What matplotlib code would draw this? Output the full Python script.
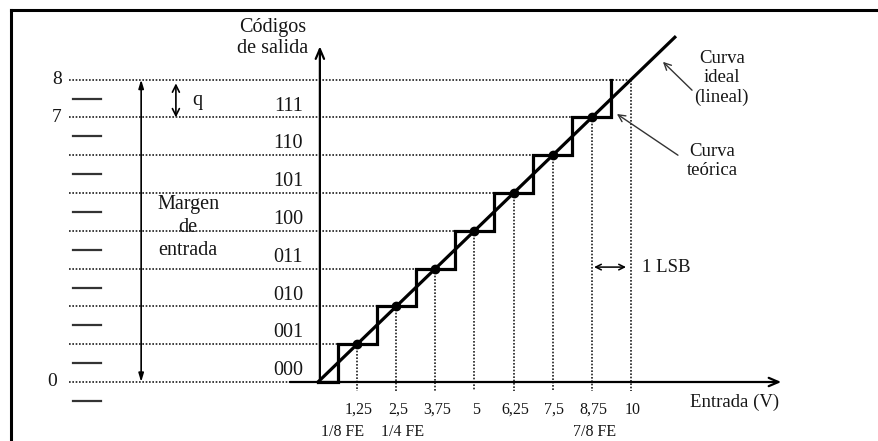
import numpy as np
import matplotlib
matplotlib.use("Agg")
import matplotlib.pyplot as plt
from matplotlib.lines import Line2D

# data (volts on x, output code on y)
levels = [0, 1, 2, 3, 4, 5, 6, 7, 8]
code_labels = ["000", "001", "010", "011", "100", "101", "110", "111"]
tick_volts = [1.25, 2.5, 3.75, 5, 6.25, 7.5, 8.75, 10]
tick_labels = ["1,25", "2,5", "3,75", "5", "6,25", "7,5", "8,75", "10"]
fe_volts = [1.25, 2.5, 8.75]
fe_labels = ["1/8 FE", "1/4 FE", "7/8 FE"]
fe_shift = [-0.45, 0.2, 0.1]   # labels sit a little off their tick
# staircase (curva teorica): transitions at half LSB
step_edges = [0, 0.625, 1.875, 3.125, 4.375, 5.625, 6.875, 8.125, 9.375]
step_codes = [0, 1, 2, 3, 4, 5, 6, 7]
step_top = 8
# ideal line end point
ideal_v = [0, 11.4]
ideal_c = [0, 9.12]
# short marks on the left, half way between levels
half_levels = [7.5, 6.5, 5.5, 4.5, 3.5, 2.5, 1.5, 0.5, -0.5]
# where each dotted level line stops (at the staircase)
level_ends = [-0.9, 0.625, 1.875, 3.125, 4.375, 5.625, 6.875, 8.125, 10]

# pixel -> data mapping of the layout
W, H = 879, 441
x0px, xs = 318, 31.3
y0px, ys = 382, 37.8

plt.rcParams["font.family"] = ["Liberation Serif", "DejaVu Serif"]
ink = "#161616"

fig = plt.figure(figsize=(W / 100, H / 100), dpi=100)
ax = fig.add_axes([0, 0, 1, 1])
ax.set_xlim(-x0px / xs, (W - x0px) / xs)
ax.set_ylim((y0px - H) / ys, y0px / ys)
ax.set_axis_off()

dot_kw = dict(color="#1e1e1e", lw=1.2, ls=(0, (1, 1)))

# dotted horizontal levels
for lv, end in zip(levels, level_ends):
    ax.plot([-7.95, end], [lv, lv], **dot_kw)

# dotted verticals from ideal points down past the axis
for k, v in enumerate(tick_volts, start=1):
    ax.plot([v, v], [min(k, 8), -0.25], **dot_kw)

# axes arrows
arrow_ax = dict(arrowstyle="->,head_length=0.7,head_width=0.3",
                lw=1.6, color="black", shrinkA=0, shrinkB=0)
ax.annotate("", xy=(14.8, 0), xytext=(-0.9, 0), arrowprops=arrow_ax)
ax.annotate("", xy=(0.06, 8.88), xytext=(0.06, 0), arrowprops=arrow_ax)

# staircase
sx = [step_edges[0]]
sy = [step_codes[0]]
for i in range(1, len(step_edges)):
    sx += [step_edges[i], step_edges[i]]
    sy += [step_codes[i - 1], step_codes[i] if i < len(step_codes) else step_top]
ax.plot(sx, sy, color="black", lw=2.3, solid_joinstyle="miter")

# ideal line
ax.plot(ideal_v, ideal_c, color="black", lw=2.3)

# points on ideal line
ax.plot(tick_volts[:7], levels[1:8], "o", color="black", ms=6)

# left scale
for v in half_levels:
    ax.plot([-7.83, -6.93], [v, v], color="#333333", lw=1.6)
for lv, txt in [(8, "8"), (7, "7")]:
    ax.text(-8.34, lv, txt, ha="center", va="center", fontsize=14, color=ink)
ax.text(-8.5, 0, "0", ha="center", va="center", fontsize=14, color=ink)

# margen de entrada
ax.annotate("", xy=(-5.65, 8), xytext=(-5.65, 0),
            arrowprops=dict(arrowstyle="<|-|>,head_length=0.5,head_width=0.15",
                            lw=1.2, color="black", shrinkA=0, shrinkB=0))
ax.text(-4.15, 4.08, "Margen\nde\nentrada", ha="center", va="center",
        fontsize=14.5, color=ink, linespacing=1.28)

# q
ax.annotate("", xy=(-4.54, 7.9), xytext=(-4.54, 7.0),
            arrowprops=dict(arrowstyle="<->,head_length=0.5,head_width=0.25",
                            lw=1.2, color="black", shrinkA=0, shrinkB=0))
ax.text(-3.87, 7.45, "q", ha="center", va="center", fontsize=14.5, color=ink)

# output codes
for k, txt in enumerate(code_labels):
    ax.text(-0.95, k + 0.3, txt, ha="center", va="center", fontsize=14.5, color=ink)

ax.text(-1.44, 9.1, "Códigos\nde salida", ha="center", va="center",
        fontsize=14.5, color=ink, linespacing=1.15)
ax.text(13.3, -0.53, "Entrada (V)", ha="center", va="center", fontsize=13.5, color=ink)

for v, txt in zip(tick_volts, tick_labels):
    ax.text(v + 0.05, -0.74, txt, ha="center", va="center", fontsize=11.5, color=ink)
for v, d, txt in zip(fe_volts, fe_shift, fe_labels):
    ax.text(v + d, -1.32, txt, ha="center", va="center", fontsize=11.5, color=ink)

# annotations on the right
ax.text(12.9, 8.04, "Curva\nideal\n(lineal)", ha="center", va="center",
        fontsize=13.5, color=ink, linespacing=1.2)
ax.annotate("", xy=(11.02, 8.47), xytext=(11.95, 7.72),
            arrowprops=dict(arrowstyle="->,head_length=0.5,head_width=0.25",
                            lw=1.0, color="#333333", shrinkA=0, shrinkB=0))
ax.text(12.59, 5.85, "Curva\nteórica", ha="center", va="center",
        fontsize=13.5, color=ink, linespacing=1.2)
ax.annotate("", xy=(9.55, 7.09), xytext=(11.5, 6.0),
            arrowprops=dict(arrowstyle="->,head_length=0.5,head_width=0.25",
                            lw=1.0, color="#333333", shrinkA=0, shrinkB=0))

ax.annotate("", xy=(9.84, 3.04), xytext=(8.82, 3.04),
            arrowprops=dict(arrowstyle="<->,head_length=0.4,head_width=0.2",
                            lw=1.1, color="black", shrinkA=0, shrinkB=0))
ax.text(10.35, 3.04, "1 LSB", ha="left", va="center", fontsize=13.5, color=ink)

# frame (top and left edges)
fig.add_artist(Line2D([11 / W, 1], [1 - 10 / H, 1 - 10 / H], color="black",
                      lw=2.2, transform=fig.transFigure))
fig.add_artist(Line2D([11 / W, 11 / W], [0, 1 - 10 / H], color="black",
                      lw=2.2, transform=fig.transFigure))

fig.savefig("out.png", dpi=100, facecolor="white")
